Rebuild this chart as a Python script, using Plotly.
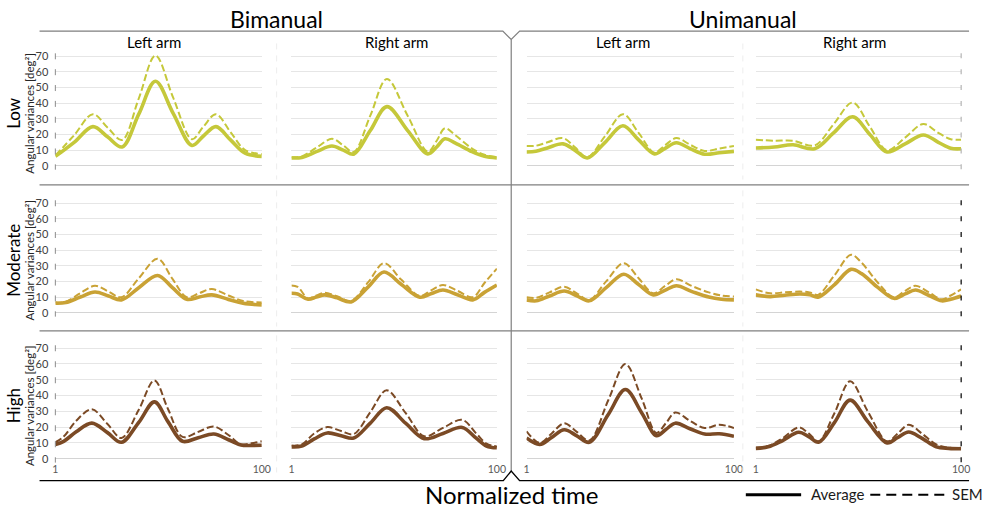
import plotly.graph_objects as go

W, H = 983, 510

# ---------------- data ----------------
row_names = ["Low", "Moderate", "High"]
condition_names = ["Bimanual", "Unimanual"]
arm_names = ["Left arm", "Right arm", "Left arm", "Right arm"]
row_colors = ["#c5c83a", "#c9a235", "#7b4a25"]
y_tick_values = [0, 10, 20, 30, 40, 50, 60, 70]
x_tick_values = [1, 100]
x_tick_labels = ["1", "100"]
legend_labels = ["Average", "SEM"]
x_title = "Normalized time"
y_title = "Angular variances [deg²]"

# Low
low_bi_left_x = [1, 10, 19, 26, 33, 41, 49, 57.5, 66.5, 72, 78, 85, 92, 100]
low_bi_left_avg = [6, 15, 25, 18.5, 12, 33, 54, 33.5, 13, 19, 25, 16.5, 8, 6]
low_bi_left_sem = [6.5, 19.5, 33, 24.5, 16.5, 43, 70.5, 43.5, 17, 25, 33, 21.5, 10, 7.5]

low_bi_right_x = [1, 6, 13, 20.5, 26, 31, 39, 47, 57, 66.7, 71, 75, 80, 88, 94, 100]
low_bi_right_avg = [5, 5.3, 9, 12.6, 10, 7.4, 22.5, 37.8, 22.5, 7.6, 12, 17.2, 14.5, 9, 6, 5]
low_bi_right_sem = [5.5, 6, 11.5, 17.2, 13, 8.8, 32, 55.5, 32, 9, 16, 24, 19.5, 11, 7, 5.5]

low_uni_left_x = [1, 5.5, 11, 18.4, 24, 30, 38.5, 47, 54.5, 62, 67, 72.5, 79, 86, 93, 100]
low_uni_left_avg = [8.8, 9.3, 11.4, 14, 10, 5, 15, 25.6, 16.5, 7.6, 11, 14.7, 11, 7.4, 8.3, 9.2]
low_uni_left_sem = [12.6, 12.8, 15, 17.7, 12, 5.5, 19, 33, 21, 8.4, 13, 17.7, 13.5, 9.5, 11, 12.6]

low_uni_right_x = [1, 10, 19, 29.4, 38.5, 47.7, 56, 64.3, 73, 81.8, 89, 95, 100]
low_uni_right_avg = [11.3, 12, 13.4, 10.9, 21, 31.3, 20, 8.8, 14, 19.7, 15, 11.2, 10.9]
low_uni_right_sem = [16.6, 16, 16, 13, 26.5, 40.4, 25, 9.9, 18, 26.7, 21, 17, 16.6]

# Moderate
mod_bi_left_x = [1, 6, 13, 20, 26.5, 32.7, 41, 50, 57, 64, 70, 76, 84, 91, 100]
mod_bi_left_avg = [6.1, 6.5, 10, 13.2, 10.7, 8.2, 16, 23.8, 16.2, 8.6, 10, 11.4, 8.5, 6, 5]
mod_bi_left_sem = [6.5, 7, 12.5, 17.2, 13.5, 9.9, 22, 34.5, 22, 9.9, 12.5, 15.1, 11, 7.5, 6.5]

mod_bi_right_x = [1, 4, 9, 13, 17, 23, 29.7, 38, 45.6, 54, 62.9, 68.5, 74, 81, 88.4, 94, 100]
mod_bi_right_avg = [12.4, 12, 8.6, 10, 11.4, 9.5, 6.9, 16.5, 26, 18, 9.9, 12.3, 14.5, 11.5, 8.2, 13, 17.7]
mod_bi_right_sem = [17.4, 16.5, 9.2, 11, 12.8, 10.5, 7.6, 19.5, 31.7, 21, 10.7, 14.5, 17.7, 14, 9.9, 19, 28.2]

mod_uni_left_x = [1, 5.7, 12, 19, 25, 30.9, 39, 47.4, 54.5, 61.5, 67, 72.5, 80, 88, 94, 100]
mod_uni_left_avg = [8.2, 7.6, 10.7, 13.9, 10.8, 7.6, 16, 24.6, 18, 11.4, 14.3, 17.2, 13.5, 10, 8.6, 8.2]
mod_uni_left_sem = [9.9, 9.5, 13, 16.6, 12.4, 8.2, 20, 31.7, 22, 12.4, 17, 21.4, 17, 13, 11, 10.3]

mod_uni_right_x = [1, 8, 15, 22.3, 27, 31, 39, 46.9, 52, 60, 67.6, 73, 78, 84.5, 90.6, 95, 100]
mod_uni_right_avg = [11.4, 10.3, 11.2, 12, 11.5, 9.9, 18, 27.7, 25, 16, 9.2, 12, 14.5, 11, 7.6, 8.6, 10.7]
mod_uni_right_sem = [14.9, 12.4, 13, 13.5, 13, 11.4, 24, 37, 32, 19, 9.9, 14, 17.2, 13, 8.6, 11, 14.9]

# High
high_bi_left_x = [1, 5, 11, 18.5, 26, 32.7, 41, 48.5, 55, 62, 69.5, 77, 84, 90, 95, 100]
high_bi_left_avg = [9, 11, 17, 22.5, 16.5, 10.4, 23, 36, 23.5, 11, 13.3, 15.6, 12, 8.7, 8.4, 8.5]
high_bi_left_sem = [10.4, 14, 24, 31.3, 22, 13.1, 31, 49.6, 31.5, 13.8, 17, 20.4, 15, 9, 9.8, 11]

high_bi_right_x = [1, 6, 12, 18.3, 25, 31, 39, 46.9, 56, 65, 74, 83.3, 90, 95, 100]
high_bi_right_avg = [7.5, 8, 12.5, 16.3, 14.5, 13.1, 22.5, 32.3, 22.5, 12.7, 16, 19.8, 13, 8, 6.9]
high_bi_right_sem = [8.3, 9, 16, 20, 17.5, 15.6, 29.5, 43.3, 29, 14.2, 19.5, 24.6, 16, 9.5, 7.7]

high_uni_left_x = [1, 7.3, 13, 19, 25, 31, 40, 48.2, 56, 63, 67.5, 72, 79, 86, 93, 100]
high_uni_left_avg = [13.1, 9, 13.5, 18.3, 14.5, 10.4, 28, 43.8, 29, 14.6, 18.5, 22.5, 19, 15.6, 15.8, 14.2]
high_uni_left_sem = [17.3, 10, 16, 22.5, 17, 11.5, 37, 60, 38, 16.3, 22.5, 29.2, 24, 19.4, 21.5, 19.4]

high_uni_right_x = [1, 7, 14, 21.7, 26.5, 31.3, 39, 46.5, 55, 64.3, 69.5, 74.7, 81, 88, 94, 100]
high_uni_right_avg = [6.5, 7.5, 11.5, 16.7, 14, 10.4, 23, 37.1, 23.5, 10, 13.5, 16.9, 13, 7.5, 6.5, 6.3]
high_uni_right_sem = [6.9, 8, 13, 19.8, 16, 11, 29, 49, 30, 11, 16, 21.5, 16, 9, 7, 6.9]

panels = [
    [(low_bi_left_x, low_bi_left_avg, low_bi_left_sem),
     (low_bi_right_x, low_bi_right_avg, low_bi_right_sem),
     (low_uni_left_x, low_uni_left_avg, low_uni_left_sem),
     (low_uni_right_x, low_uni_right_avg, low_uni_right_sem)],
    [(mod_bi_left_x, mod_bi_left_avg, mod_bi_left_sem),
     (mod_bi_right_x, mod_bi_right_avg, mod_bi_right_sem),
     (mod_uni_left_x, mod_uni_left_avg, mod_uni_left_sem),
     (mod_uni_right_x, mod_uni_right_avg, mod_uni_right_sem)],
    [(high_bi_left_x, high_bi_left_avg, high_bi_left_sem),
     (high_bi_right_x, high_bi_right_avg, high_bi_right_sem),
     (high_uni_left_x, high_uni_left_avg, high_uni_left_sem),
     (high_uni_right_x, high_uni_right_avg, high_uni_right_sem)],
]

# ---------------- layout geometry (pixels) ----------------
FONT = "Lato"
col_px = [(53, 262), (292, 500), (530, 740), (762, 970)]
row_px = [(164, 53), (313, 202), (461, 349)]  # (y of 0, y of 70)
Y_RANGE = [-2, 72]


def fx(px):
    return px / W


def fy(py):
    return 1 - py / H


fig = go.Figure()
layout = {}
shapes = []
annotations = []

k = 0
for r in range(3):
    y0px, y70px = row_px[r]
    u = (y0px - y70px) / 70.0
    bot = y0px - (Y_RANGE[0]) * u
    top = y70px - (Y_RANGE[1] - 70) * u
    for c in range(4):
        k += 1
        xs, avg, sem = panels[r][c]
        xa = "x" if k == 1 else f"x{k}"
        ya = "y" if k == 1 else f"y{k}"
        color = row_colors[r]
        fig.add_trace(go.Scatter(
            x=xs, y=sem, mode="lines", xaxis=xa, yaxis=ya,
            line=dict(color=color, width=2, dash="7px,3px", shape="spline", smoothing=1),
            hoverinfo="skip", showlegend=False))
        fig.add_trace(go.Scatter(
            x=xs, y=avg, mode="lines", xaxis=xa, yaxis=ya,
            line=dict(color=color, width=3.6, shape="spline", smoothing=1),
            hoverinfo="skip", showlegend=False))
        xl, xr = col_px[c]
        xname = "xaxis" if k == 1 else f"xaxis{k}"
        yname = "yaxis" if k == 1 else f"yaxis{k}"
        layout[xname] = dict(
            domain=[fx(xl), fx(xr)], range=[1, 100], anchor=ya,
            showgrid=False, zeroline=False, showline=False, ticks="",
            showticklabels=(r == 2), tickmode="array",
            tickvals=x_tick_values, ticktext=x_tick_labels,
            tickfont=dict(family=FONT, size=10.5, color="#595959"),
            fixedrange=True)
        layout[yname] = dict(
            domain=[fy(bot), fy(top)], range=Y_RANGE, anchor=xa,
            showgrid=True, gridcolor="#e6e6e6", gridwidth=1,
            zeroline=True, zerolinecolor="#d4d4d4", zerolinewidth=1,
            showline=False, ticks="", tickmode="array", tickvals=y_tick_values,
            showticklabels=(c == 0), ticklabelstandoff=6,
            tickfont=dict(family=FONT, size=11, color="#404040"),
            fixedrange=True)

    # dashed axis marks
    mark_top = y70px - 3
    mark_bot = y0px + 4
    gap = (y0px - y70px) / 7.0 - 6
    shapes.append(dict(type="line", xref="paper", yref="paper",
                       x0=fx(53), x1=fx(53), y0=fy(mark_top), y1=fy(mark_bot),
                       line=dict(color="#8c8c8c", width=1, dash=f"6px,{gap:.2f}px")))
    right_col = "#b5b5b5" if r == 0 else "#000000"
    shapes.append(dict(type="line", xref="paper", yref="paper",
                       x0=fx(970), x1=fx(970), y0=fy(mark_top), y1=fy(mark_bot),
                       line=dict(color=right_col, width=1.2, dash=f"5px,{gap + 1:.2f}px")))
    for fxp in (277, 749):
        shapes.append(dict(type="line", xref="paper", yref="paper",
                           x0=fx(fxp), x1=fx(fxp), y0=fy(mark_top - 10), y1=fy(mark_bot + 10),
                           line=dict(color="#ededed", width=1, dash="6px,6px")))

    # row label and y title
    mid = (y0px + y70px) / 2 + 2
    annotations.append(dict(text=row_names[r], xref="paper", yref="paper",
                            x=fx(11), y=fy(mid), textangle=-90, showarrow=False,
                            xanchor="center", yanchor="middle",
                            font=dict(family=FONT, size=17, color="#000000")))
    annotations.append(dict(text=y_title, xref="paper", yref="paper",
                            x=fx(27), y=fy(mid), textangle=-90, showarrow=False,
                            xanchor="center", yanchor="middle",
                            font=dict(family=FONT, size=11.5, color="#262626")))

# frame lines
gray = "#7f7f7f"
shapes.append(dict(type="path", xref="paper", yref="paper",
                   path=f"M {fx(37)},{fy(27.5)} L {fx(506)},{fy(27.5)} L {fx(514.5)},{fy(36)} "
                        f"L {fx(523)},{fy(27.5)} L {fx(978)},{fy(27.5)}",
                   line=dict(color=gray, width=1.2)))
shapes.append(dict(type="line", xref="paper", yref="paper",
                   x0=fx(514.5), x1=fx(514.5), y0=fy(36), y1=fy(473.5),
                   line=dict(color=gray, width=1.2)))
for sep in (183.3, 331.5):
    shapes.append(dict(type="line", xref="paper", yref="paper",
                       x0=fx(37), x1=fx(978), y0=fy(sep), y1=fy(sep),
                       line=dict(color=gray, width=1.2)))
shapes.append(dict(type="path", xref="paper", yref="paper",
                   path=f"M {fx(37)},{fy(483.3)} L {fx(506.5)},{fy(483.3)} L {fx(514.5)},{fy(473.5)} "
                        f"L {fx(523)},{fy(483.3)} L {fx(978)},{fy(483.3)}",
                   line=dict(color="#000000", width=1.4)))

# legend
shapes.append(dict(type="line", xref="paper", yref="paper",
                   x0=fx(752), x1=fx(808), y0=fy(497.5), y1=fy(497.5),
                   line=dict(color="#000000", width=3)))
shapes.append(dict(type="line", xref="paper", yref="paper",
                   x0=fx(878), x1=fx(953), y0=fy(497.5), y1=fy(497.5),
                   line=dict(color="#000000", width=2, dash="10px,6px")))
annotations.append(dict(text=legend_labels[0], xref="paper", yref="paper",
                        x=fx(816), y=fy(497), xanchor="left", yanchor="middle",
                        showarrow=False, font=dict(family=FONT, size=15, color="#1a1a1a")))
annotations.append(dict(text=legend_labels[1], xref="paper", yref="paper",
                        x=fx(959), y=fy(497), xanchor="left", yanchor="middle",
                        showarrow=False, font=dict(family=FONT, size=15, color="#1a1a1a")))

# titles
for txt, cx in zip(condition_names, (277, 749)):
    annotations.append(dict(text=txt, xref="paper", yref="paper", x=fx(cx), y=fy(15),
                            xanchor="center", yanchor="middle", showarrow=False,
                            font=dict(family=FONT, size=23, color="#000000")))
for txt, cx in zip(arm_names, (153, 398, 628, 862)):
    annotations.append(dict(text=txt, xref="paper", yref="paper", x=fx(cx), y=fy(39),
                            xanchor="center", yanchor="middle", showarrow=False,
                            font=dict(family=FONT, size=15, color="#000000")))
annotations.append(dict(text=x_title, xref="paper", yref="paper", x=fx(515), y=fy(497),
                        xanchor="center", yanchor="middle", showarrow=False,
                        font=dict(family=FONT, size=24, color="#000000")))

fig.update_layout(
    width=W, height=H, autosize=False,
    margin=dict(l=0, r=0, t=0, b=0),
    paper_bgcolor="white", plot_bgcolor="white",
    shapes=shapes, annotations=annotations,
    showlegend=False,
    **layout,
)

fig.write_html("out.html", config={"displayModeBar": False})

# remove default page margins so the figure fills the window exactly
with open("out.html", "r", encoding="utf-8") as fh:
    html = fh.read()
html = html.replace("<head>", "<head><style>html,body{margin:0;padding:0;overflow:hidden;}</style>", 1)
with open("out.html", "w", encoding="utf-8") as fh:
    fh.write(html)
